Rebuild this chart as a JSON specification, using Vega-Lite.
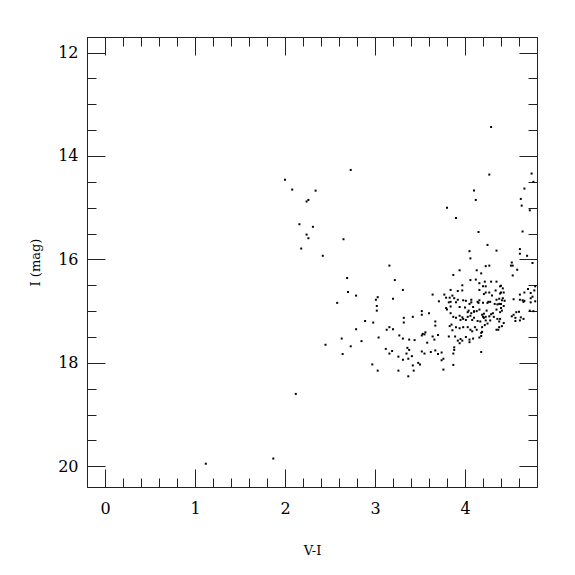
{
  "$schema": "https://vega.github.io/schema/vega-lite/v6.json",
  "width": 450,
  "height": 450,
  "autosize": {"type": "none"},
  "padding": {"left": 87, "top": 37, "right": 38, "bottom": 88},
  "background": "white",
  "config": {
    "view": {"stroke": "#222", "strokeWidth": 1},
    "font": "DejaVu Serif",
    "axis": {
      "domainColor": "#222",
      "tickColor": "#222",
      "labelFont": "DejaVu Serif",
      "titleFont": "DejaVu Serif",
      "labelColor": "black",
      "titleColor": "black",
      "grid": false,
      "labelOverlap": false,
      "labelFlush": false,
      "titleFontWeight": "normal"
    }
  },
  "data": {"values": [
    {"vi":1.12,"imag":19.95},{"vi":1.87,"imag":19.85},{"vi":2.12,"imag":18.60},{"vi":2.00,"imag":14.46},{"vi":2.08,"imag":14.65},
    {"vi":2.34,"imag":14.67},{"vi":2.73,"imag":14.27},{"vi":2.26,"imag":14.85},{"vi":2.24,"imag":14.88},{"vi":2.16,"imag":15.32},
    {"vi":2.31,"imag":15.37},{"vi":2.24,"imag":15.52},{"vi":2.26,"imag":15.59},{"vi":2.65,"imag":15.61},{"vi":2.18,"imag":15.79},
    {"vi":2.42,"imag":15.93},{"vi":3.16,"imag":16.12},{"vi":2.69,"imag":16.36},{"vi":3.22,"imag":16.40},{"vi":2.70,"imag":16.63},
    {"vi":2.79,"imag":16.70},{"vi":3.03,"imag":16.73},{"vi":3.01,"imag":16.78},{"vi":3.20,"imag":16.76},{"vi":2.58,"imag":16.84},
    {"vi":3.02,"imag":16.90},{"vi":3.02,"imag":16.99},{"vi":2.89,"imag":17.19},{"vi":2.98,"imag":17.22},{"vi":3.16,"imag":17.31},
    {"vi":3.13,"imag":17.36},{"vi":3.20,"imag":17.35},{"vi":2.79,"imag":17.35},{"vi":3.27,"imag":17.47},{"vi":2.63,"imag":17.53},
    {"vi":2.85,"imag":17.58},{"vi":3.04,"imag":17.51},{"vi":2.45,"imag":17.65},{"vi":2.73,"imag":17.68},{"vi":3.12,"imag":17.73},
    {"vi":3.19,"imag":17.77},{"vi":3.16,"imag":17.82},{"vi":2.64,"imag":17.83},{"vi":3.26,"imag":17.88},{"vi":2.97,"imag":18.03},
    {"vi":3.03,"imag":18.15},{"vi":3.26,"imag":18.15},{"vi":3.31,"imag":17.53},{"vi":3.38,"imag":17.55},{"vi":3.44,"imag":17.56},
    {"vi":3.52,"imag":17.47},{"vi":3.53,"imag":17.44},{"vi":3.55,"imag":17.45},{"vi":3.56,"imag":17.41},{"vi":3.64,"imag":17.49},
    {"vi":3.70,"imag":17.46},{"vi":3.66,"imag":17.55},{"vi":3.58,"imag":17.61},{"vi":3.82,"imag":17.49},{"vi":3.36,"imag":17.71},
    {"vi":3.38,"imag":17.75},{"vi":3.35,"imag":17.82},{"vi":3.41,"imag":17.87},{"vi":3.31,"imag":17.94},{"vi":3.37,"imag":17.92},
    {"vi":3.52,"imag":17.78},{"vi":3.55,"imag":17.82},{"vi":3.62,"imag":17.79},{"vi":3.67,"imag":17.76},{"vi":3.70,"imag":17.83},
    {"vi":3.74,"imag":17.80},{"vi":3.76,"imag":17.92},{"vi":3.74,"imag":17.95},{"vi":3.42,"imag":18.05},{"vi":3.48,"imag":18.00},
    {"vi":3.50,"imag":18.03},{"vi":3.43,"imag":18.15},{"vi":3.76,"imag":18.13},{"vi":3.37,"imag":18.26},{"vi":3.31,"imag":16.59},
    {"vi":3.64,"imag":16.68},{"vi":3.77,"imag":16.68},{"vi":3.79,"imag":16.74},{"vi":3.71,"imag":16.81},{"vi":3.82,"imag":16.83},
    {"vi":3.79,"imag":16.94},{"vi":3.80,"imag":16.97},{"vi":3.52,"imag":17.00},{"vi":3.52,"imag":17.07},{"vi":3.60,"imag":17.04},
    {"vi":3.42,"imag":17.11},{"vi":3.32,"imag":17.13},{"vi":3.32,"imag":17.22},{"vi":3.67,"imag":17.20},{"vi":3.83,"imag":17.29},
    {"vi":3.67,"imag":17.28},
    {"vi":4.29,"imag":13.44},{"vi":4.27,"imag":14.36},{"vi":4.74,"imag":14.34},{"vi":4.76,"imag":14.50},{"vi":4.10,"imag":14.67},
    {"vi":4.66,"imag":14.63},{"vi":4.12,"imag":14.85},{"vi":4.62,"imag":14.83},{"vi":4.63,"imag":14.96},{"vi":4.72,"imag":15.05},
    {"vi":3.90,"imag":15.20},{"vi":3.80,"imag":15.00},{"vi":4.15,"imag":15.47},{"vi":4.64,"imag":15.46},{"vi":4.25,"imag":15.72},
    {"vi":4.61,"imag":15.80},{"vi":4.05,"imag":15.84},{"vi":4.35,"imag":15.83},{"vi":4.61,"imag":15.89},{"vi":4.69,"imag":15.93},
    {"vi":4.06,"imag":15.98},{"vi":4.75,"imag":16.07},{"vi":4.27,"imag":16.12},{"vi":4.23,"imag":16.13},{"vi":4.52,"imag":16.06},
    {"vi":4.51,"imag":16.12},{"vi":4.53,"imag":16.12},{"vi":4.58,"imag":16.20},{"vi":4.53,"imag":16.31},{"vi":4.13,"imag":16.21},
    {"vi":4.18,"imag":16.27},{"vi":3.94,"imag":16.21},{"vi":3.87,"imag":16.30},{"vi":4.12,"imag":16.39},{"vi":4.06,"imag":16.40},
    {"vi":4.35,"imag":16.43},{"vi":4.29,"imag":16.43},{"vi":4.22,"imag":16.43},{"vi":4.16,"imag":16.46},{"vi":3.97,"imag":16.50},
    {"vi":4.20,"imag":16.52},{"vi":4.23,"imag":16.52},{"vi":4.39,"imag":16.52},{"vi":3.84,"imag":16.59},{"vi":3.92,"imag":16.61},
    {"vi":3.97,"imag":16.60},{"vi":4.23,"imag":16.64},{"vi":4.27,"imag":16.64},{"vi":4.34,"imag":16.60},{"vi":4.40,"imag":16.51},
    {"vi":4.42,"imag":16.56},{"vi":4.40,"imag":16.64},{"vi":4.43,"imag":16.64},{"vi":4.70,"imag":16.57},{"vi":4.73,"imag":16.65},
    {"vi":4.77,"imag":16.60},{"vi":4.78,"imag":16.52},{"vi":4.61,"imag":16.68},{"vi":4.66,"imag":16.64},{"vi":4.73,"imag":16.75},
    {"vi":4.54,"imag":16.77},{"vi":4.61,"imag":16.78},{"vi":4.64,"imag":16.79},{"vi":4.66,"imag":16.80},{"vi":4.75,"imag":16.72},
    {"vi":4.78,"imag":16.81},{"vi":4.73,"imag":16.83},{"vi":4.65,"imag":16.82},{"vi":3.86,"imag":16.70},{"vi":3.92,"imag":16.78},
    {"vi":3.84,"imag":16.82},{"vi":3.90,"imag":16.83},{"vi":3.83,"imag":16.74},{"vi":3.88,"imag":16.75},{"vi":4.01,"imag":16.80},
    {"vi":4.07,"imag":16.78},{"vi":4.07,"imag":16.83},{"vi":3.98,"imag":16.79},{"vi":4.05,"imag":16.86},{"vi":4.15,"imag":16.84},
    {"vi":4.20,"imag":16.84},{"vi":4.14,"imag":16.82},{"vi":4.16,"imag":16.79},{"vi":4.26,"imag":16.82},{"vi":4.28,"imag":16.82},
    {"vi":4.25,"imag":16.84},{"vi":4.35,"imag":16.78},{"vi":4.38,"imag":16.76},{"vi":4.41,"imag":16.79},{"vi":4.42,"imag":16.75},
    {"vi":4.36,"imag":16.87},{"vi":4.33,"imag":16.86},{"vi":4.38,"imag":16.86},{"vi":4.40,"imag":16.86},{"vi":4.44,"imag":16.80},
    {"vi":4.16,"imag":16.59},{"vi":4.21,"imag":16.67},{"vi":4.30,"imag":16.70},{"vi":4.39,"imag":16.66},{"vi":3.84,"imag":16.91},
    {"vi":3.94,"imag":16.92},{"vi":4.00,"imag":16.93},{"vi":4.09,"imag":16.92},{"vi":4.04,"imag":16.99},{"vi":4.10,"imag":17.00},
    {"vi":4.35,"imag":16.97},{"vi":4.40,"imag":16.94},{"vi":4.43,"imag":16.90},{"vi":4.39,"imag":17.02},{"vi":4.41,"imag":16.99},
    {"vi":4.57,"imag":17.02},{"vi":4.60,"imag":17.01},{"vi":4.52,"imag":17.10},{"vi":4.56,"imag":17.13},{"vi":4.62,"imag":17.12},
    {"vi":4.65,"imag":17.15},{"vi":4.54,"imag":17.07},{"vi":4.56,"imag":17.19},{"vi":4.61,"imag":17.18},{"vi":4.72,"imag":16.99},
    {"vi":4.76,"imag":17.00},{"vi":3.84,"imag":17.04},{"vi":3.87,"imag":17.11},{"vi":3.90,"imag":17.13},{"vi":3.94,"imag":17.09},
    {"vi":3.98,"imag":17.15},{"vi":4.01,"imag":17.17},{"vi":4.03,"imag":17.02},{"vi":4.07,"imag":17.04},{"vi":4.10,"imag":17.01},
    {"vi":4.16,"imag":16.97},{"vi":4.19,"imag":17.07},{"vi":4.20,"imag":17.11},{"vi":4.23,"imag":17.11},{"vi":4.27,"imag":17.10},
    {"vi":4.28,"imag":17.18},{"vi":4.31,"imag":17.04},{"vi":4.32,"imag":17.11},{"vi":4.38,"imag":17.20},{"vi":4.39,"imag":17.15},
    {"vi":4.43,"imag":17.23},{"vi":4.41,"imag":17.29},{"vi":4.13,"imag":17.00},{"vi":4.21,"imag":17.05},{"vi":4.24,"imag":16.99},
    {"vi":3.95,"imag":17.17},{"vi":3.97,"imag":17.12},{"vi":4.03,"imag":17.11},{"vi":4.06,"imag":17.09},{"vi":4.08,"imag":17.17},
    {"vi":4.10,"imag":17.13},{"vi":4.14,"imag":17.19},{"vi":4.17,"imag":17.20},{"vi":4.21,"imag":17.13},{"vi":4.29,"imag":17.06},
    {"vi":4.23,"imag":17.18},{"vi":3.85,"imag":17.26},{"vi":3.90,"imag":17.31},{"vi":3.94,"imag":17.33},{"vi":3.98,"imag":17.31},
    {"vi":4.03,"imag":17.31},{"vi":4.06,"imag":17.36},{"vi":4.08,"imag":17.39},{"vi":4.11,"imag":17.31},{"vi":4.13,"imag":17.36},
    {"vi":4.19,"imag":17.31},{"vi":4.22,"imag":17.27},{"vi":4.25,"imag":17.24},{"vi":4.36,"imag":17.15},{"vi":4.38,"imag":17.31},
    {"vi":4.35,"imag":17.36},{"vi":4.37,"imag":17.36},{"vi":3.86,"imag":17.37},{"vi":4.19,"imag":17.40},{"vi":4.18,"imag":17.42},
    {"vi":3.89,"imag":17.49},{"vi":3.95,"imag":17.54},{"vi":4.01,"imag":17.50},{"vi":4.05,"imag":17.55},{"vi":4.09,"imag":17.53},
    {"vi":4.16,"imag":17.51},{"vi":4.18,"imag":17.48},{"vi":4.05,"imag":17.60},{"vi":3.92,"imag":17.57},{"vi":3.97,"imag":17.57},
    {"vi":3.94,"imag":17.62},{"vi":3.88,"imag":17.70},{"vi":3.88,"imag":17.75},{"vi":3.87,"imag":17.82},{"vi":4.18,"imag":17.79},
    {"vi":3.87,"imag":18.04}
  ]},
  "resolve": {"axis": {"x": "independent", "y": "independent"}},
  "layer": [
    {
      "mark": {"type": "square", "size": 4, "color": "black", "opacity": 1, "clip": true},
      "encoding": {
        "x": {"field": "vi", "type": "quantitative",
          "scale": {"domain": [-0.2, 4.8], "nice": false, "zero": false},
          "axis": {"orient": "bottom", "title": "V-I", "titleFontSize": 13, "titlePadding": 19,
            "values": [0,0.2,0.4,0.6,0.8,1,1.2,1.4,1.6,1.8,2,2.2,2.4,2.6,2.8,3,3.2,3.4,3.6,3.8,4,4.2,4.4,4.6],
            "format": ".0f",
            "tickSize": {"condition": {"test": "abs(datum.value - round(datum.value)) < 0.001", "value": -18}, "value": -9},
            "labelExpr": "abs(datum.value - round(datum.value)) < 0.001 ? datum.label : ''",
            "labelFontSize": 16, "labelPadding": 31}},
        "y": {"field": "imag", "type": "quantitative",
          "scale": {"domain": [20.4, 11.7], "nice": false, "zero": false},
          "axis": {"orient": "left", "title": "I (mag)", "titleFontSize": 13, "titlePadding": 15,
            "values": [12,12.5,13,13.5,14,14.5,15,15.5,16,16.5,17,17.5,18,18.5,19,19.5,20],
            "format": ".0f",
            "tickSize": {"condition": {"test": "abs(datum.value - round(datum.value)) < 0.001 && round(datum.value) % 2 == 0", "value": -18}, "value": -9},
            "labelExpr": "abs(datum.value - round(datum.value)) < 0.001 && round(datum.value) % 2 == 0 ? datum.label : ''",
            "labelFontSize": 16, "labelPadding": 27}}
      }
    },
    {
      "mark": {"type": "square", "size": 4, "opacity": 0},
      "encoding": {
        "x": {"field": "vi", "type": "quantitative",
          "scale": {"domain": [-0.2, 4.8], "nice": false, "zero": false},
          "axis": {"orient": "top", "title": null, "labels": false,
            "values": [0,0.2,0.4,0.6,0.8,1,1.2,1.4,1.6,1.8,2,2.2,2.4,2.6,2.8,3,3.2,3.4,3.6,3.8,4,4.2,4.4,4.6],
            "tickSize": {"condition": {"test": "abs(datum.value - round(datum.value)) < 0.001", "value": -18}, "value": -9}}},
        "y": {"field": "imag", "type": "quantitative",
          "scale": {"domain": [20.4, 11.7], "nice": false, "zero": false},
          "axis": {"orient": "right", "title": null, "labels": false,
            "values": [12,12.5,13,13.5,14,14.5,15,15.5,16,16.5,17,17.5,18,18.5,19,19.5,20],
            "tickSize": {"condition": {"test": "abs(datum.value - round(datum.value)) < 0.001 && round(datum.value) % 2 == 0", "value": -18}, "value": -9}}}
      }
    }
  ]
}
